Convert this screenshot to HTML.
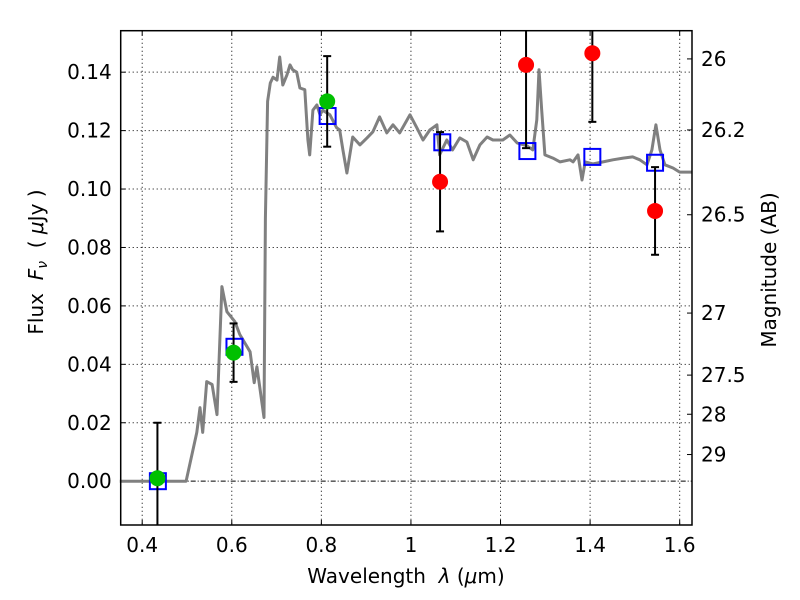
<!DOCTYPE html>
<html><head><meta charset="utf-8"><style>
body{margin:0;background:#fff}
svg{display:block;font-family:"DejaVu Sans","Liberation Sans",sans-serif}
.t{white-space:pre}
</style></head><body>
<svg id="chart" width="800" height="600" viewBox="0 0 800 600"></svg>
<script>
const specLam=[0.350,0.498,0.522,0.529,0.535,0.544,0.556,0.567,0.578,0.589,0.607,0.618,0.641,0.650,0.656,0.672,0.675,0.680,0.686,0.692,0.701,0.707,0.714,0.723,0.730,0.736,0.745,0.752,0.763,0.770,0.774,0.781,0.790,0.797,0.803,0.819,0.834,0.841,0.848,0.857,0.870,0.886,0.902,0.915,0.930,0.946,0.960,0.975,0.998,1.013,1.027,1.042,1.058,1.064,1.080,1.093,1.109,1.125,1.139,1.154,1.170,1.183,1.205,1.221,1.237,1.259,1.272,1.281,1.286,1.292,1.299,1.317,1.333,1.355,1.362,1.373,1.382,1.389,1.407,1.429,1.451,1.474,1.495,1.511,1.527,1.538,1.547,1.556,1.567,1.585,1.600,1.627];
const specFlux=[0,0,0.0167,0.0252,0.0167,0.0341,0.0331,0.0228,0.0666,0.058,0.0546,0.0502,0.0443,0.0337,0.0392,0.0218,0.09,0.13,0.1363,0.1383,0.1373,0.1452,0.1356,0.139,0.1425,0.1408,0.140,0.1346,0.134,0.1168,0.1117,0.127,0.1288,0.1254,0.127,0.1254,0.121,0.1202,0.1134,0.1055,0.1178,0.1151,0.1175,0.1196,0.1247,0.1192,0.122,0.1192,0.1254,0.121,0.1168,0.1202,0.122,0.1117,0.1168,0.1134,0.1175,0.1161,0.110,0.1151,0.1178,0.1168,0.1168,0.1185,0.1158,0.1148,0.1134,0.1237,0.1408,0.127,0.1117,0.1106,0.1093,0.110,0.1093,0.1117,0.1031,0.1093,0.1086,0.1093,0.110,0.1106,0.111,0.110,0.1083,0.1134,0.122,0.1134,0.1083,0.1072,0.1058,0.1058];
const modelLam=[0.435,0.606,0.814,1.07,1.26,1.405,1.545];
const modelFlux=[0.0,0.046,0.125,0.116,0.113,0.111,0.109];
const greenLam=[0.434,0.604,0.813];
const greenFlux=[0.001,0.044,0.130];
const greenErr=[0.019,0.010,0.0155];
const redLam=[1.065,1.257,1.405,1.545];
const redFlux=[0.1025,0.1425,0.1465,0.0925];
const redErr=[0.017,0.0285,0.0235,0.015];
const xTicks=[0.4,0.6,0.8,1.0,1.2,1.4,1.6];
const xTickLabels=["0.4","0.6","0.8","1","1.2","1.4","1.6"];
const yTicks=[0,0.02,0.04,0.06,0.08,0.10,0.12,0.14];
const yTickLabels=["0.00","0.02","0.04","0.06","0.08","0.10","0.12","0.14"];
const magTicks=[26,26.2,26.5,27,27.5,28,29];
const magTickLabels=["26","26.2","26.5","27","27.5","28","29"];

const L=120.7,R=692,T=30.7,B=525;
const xMin=0.352,xMax=1.6275,yMin=-0.015,yMax=0.1542;
const X=v=>L+(v-xMin)/(xMax-xMin)*(R-L);
const Y=v=>B-(v-yMin)/(yMax-yMin)*(B-T);
const svg=document.getElementById('chart');
const NS='http://www.w3.org/2000/svg';
function mk(tag,attrs,parent){const e=document.createElementNS(NS,tag);for(const k in attrs)e.setAttribute(k,attrs[k]);(parent||svg).appendChild(e);return e;}

xTicks.forEach((t,i)=>{
  const g=mk('line',{x1:X(t),x2:X(t),y1:T,y2:B,stroke:'#000','stroke-width':1,'stroke-dasharray':'1,3'});
  
  
  mk('line',{x1:X(t),x2:X(t),y1:B,y2:B-5,stroke:'#000'});
  mk('line',{x1:X(t),x2:X(t),y1:T,y2:T+5,stroke:'#000'});
});
yTicks.forEach((t,i)=>{
  if(t!==0){
    const g=mk('line',{x1:L,x2:R,y1:Y(t),y2:Y(t),stroke:'#000','stroke-width':1,'stroke-dasharray':'1,3'});
    
    
  }
  mk('line',{x1:L,x2:L+5,y1:Y(t),y2:Y(t),stroke:'#000'});
  const lb=mk('text',{x:L-9,y:Y(t)+7,'font-size':20,'text-anchor':'end'});
  lb.textContent=yTickLabels[i];
  
  
});
const zl=mk('line',{x1:L,x2:R,y1:Y(0),y2:Y(0),stroke:'#000','stroke-width':1,'stroke-dasharray':'5,2,1,2'});



magTicks.forEach((m,i)=>{
  const f=Math.pow(10,(23.9-m)/2.5);
  const y=Y(f);
  mk('line',{x1:R,x2:R-5,y1:y,y2:y,stroke:'#000'});
  const lb=mk('text',{x:R+9,y:y+7,'font-size':20});
  lb.textContent=magTickLabels[i];
  
  
});

let d='';specLam.forEach((l,i)=>{d+=(i?'L':'M')+X(l).toFixed(1)+','+Y(specFlux[i]).toFixed(1);});
const sp=mk('path',{d:d,fill:'none',stroke:'#808080','stroke-width':3,'stroke-linejoin':'round'});



modelLam.forEach((l,i)=>{
  const s=mk('rect',{x:X(l)-8,y:Y(modelFlux[i])-8,width:16,height:16,fill:'none',stroke:'#0000ff','stroke-width':2});
  
  
});
function errbar(l,f,e,color,name){
  const x=X(l);
  const b=mk('line',{x1:x,x2:x,y1:Y(f+e),y2:Y(f-e),stroke:'#000','stroke-width':2});
  
  
  mk('line',{x1:x-4,x2:x+4,y1:Y(f+e),y2:Y(f+e),stroke:'#000','stroke-width':2});
  mk('line',{x1:x-4,x2:x+4,y1:Y(f-e),y2:Y(f-e),stroke:'#000','stroke-width':2});
  const c=mk('circle',{cx:x,cy:Y(f),r:8,fill:color});
  
  
}
greenLam.forEach((l,i)=>errbar(l,greenFlux[i],greenErr[i],'#00c000','observed-point-green'));
redLam.forEach((l,i)=>errbar(l,redFlux[i],redErr[i],'#ff0000','observed-point-red'));

mk('rect',{x:0,y:0,width:800,height:T,fill:'#fff'});
mk('rect',{x:0,y:B,width:800,height:600-B,fill:'#fff'});
xTicks.forEach((t,i)=>{
  const lb=mk('text',{x:X(t),y:B+27,'font-size':20,'text-anchor':'middle'});
  lb.textContent=xTickLabels[i];
  
  
});
const fr=mk('rect',{x:L,y:T,width:R-L,height:B-T,fill:'none',stroke:'#000','stroke-width':1.5});


</script>
<svg style="position:absolute;left:0;top:0" width="800" height="600">
<text class="t" x="406" y="583" font-size="20" text-anchor="middle" font-family="DejaVu Sans, sans-serif">Wavelength  <tspan font-style="italic">λ</tspan> (<tspan font-style="italic">μ</tspan>m)</text>
<text class="t" transform="translate(43,262) rotate(-90)" font-size="20" text-anchor="middle" font-family="DejaVu Sans, sans-serif">Flux  <tspan font-style="italic">F</tspan><tspan font-style="italic" font-size="14" dy="4">ν</tspan><tspan dy="-4">  ( </tspan><tspan font-style="italic">μ</tspan>Jy )</text>
<text class="t" transform="translate(776,270) rotate(-90)" font-size="20" text-anchor="middle" font-family="DejaVu Sans, sans-serif">Magnitude (AB)</text>
</svg>
</body></html>
